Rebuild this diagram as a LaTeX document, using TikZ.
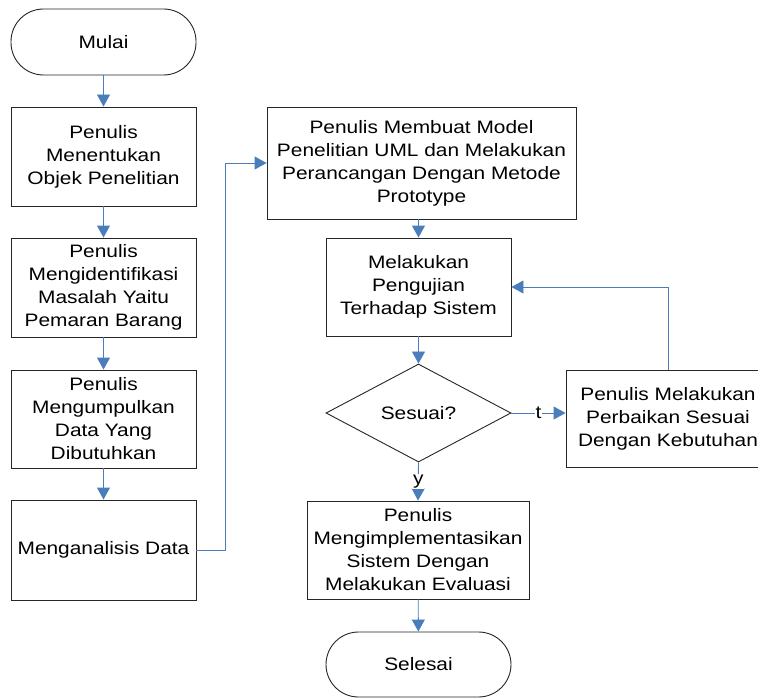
\documentclass[tikz,border=0pt]{standalone}
\usepackage{fontspec}
\setmainfont{Liberation Sans}[FakeStretch=1.16]
\usetikzlibrary{arrows.meta,shapes.geometric}
\definecolor{conn}{HTML}{4A7EBB}
\begin{document}
\begin{tikzpicture}[x=1pt,y=-1pt,
  box/.style={draw=black!85, line width=0.9pt, fill=white, align=center, inner sep=2pt,
    font=\fontsize{18}{23}\selectfont},
  term/.style={box, rounded corners=32.5pt},
  dec/.style={box, shape=diamond, aspect=1.89, inner sep=0pt},
  flow/.style={draw=conn, line width=0.9pt, -{Triangle[width=13pt,length=12pt]}},
  lab/.style={fill=white, inner sep=1pt, font=\fontsize{18}{23}\selectfont}]
\useasboundingbox (0,0) rectangle (758,698);
\node[term, minimum width=185pt, minimum height=66pt] (mulai) at (103.5,42) {Mulai};
\node[box, minimum width=185pt, minimum height=99pt] (b1) at (103.5,156.5) {Penulis\\Menentukan\\Objek Penelitian};
\node[box, minimum width=185pt, minimum height=99pt] (b2) at (103.5,287.5) {Penulis\\Mengidentifikasi\\Masalah Yaitu\\Pemaran Barang};
\node[box, minimum width=185pt, minimum height=98pt] (b3) at (103.5,419) {Penulis\\Mengumpulkan\\Data Yang\\Dibutuhkan};
\node[box, minimum width=185pt, minimum height=100pt] (b4) at (103.5,550) {Menganalisis Data};
\node[box, minimum width=309pt, minimum height=112pt] (b5) at (421.5,163) {Penulis Membuat Model\\Penelitian UML dan Melakukan\\Perancangan Dengan Metode\\Prototype};
\node[box, minimum width=185pt, minimum height=98pt] (b6) at (418.5,287) {Melakukan\\Pengujian\\Terhadap Sistem};
\node[dec, minimum width=185pt, minimum height=98pt] (d) at (418.5,413) {Sesuai?};
\node[box, minimum width=204pt, minimum height=97pt] (b7) at (668,418.5) {Penulis Melakukan\\Perbaikan Sesuai\\Dengan Kebutuhan};
\node[box, minimum width=222pt, minimum height=98pt] (b8) at (418,550) {Penulis\\Mengimplementasikan\\Sistem Dengan\\Melakukan Evaluasi};
\node[term, minimum width=185pt, minimum height=65pt] (selesai) at (418.5,664.5) {Selesai};
\draw[flow] (mulai) -- (b1);
\draw[flow] (b1) -- (b2);
\draw[flow] (b2) -- (b3);
\draw[flow] (b3) -- (b4);
\draw[flow] (b4.east) -- ++(29,0) |- (b5.west);
\draw[flow] (b5.south -| b6.north) -- (b6.north);
\draw[flow] (b6) -- (d);
\draw[flow] (d.east) -- node[lab, pos=0.5] {t} (d.east -| b7.west);
\draw[flow] (b7.north) |- (b6.east);
\draw[flow] (d.south) -- node[lab, pos=0.5] {y} (b8.north);
\draw[flow] (b8) -- (selesai);
\end{tikzpicture}
\end{document}
